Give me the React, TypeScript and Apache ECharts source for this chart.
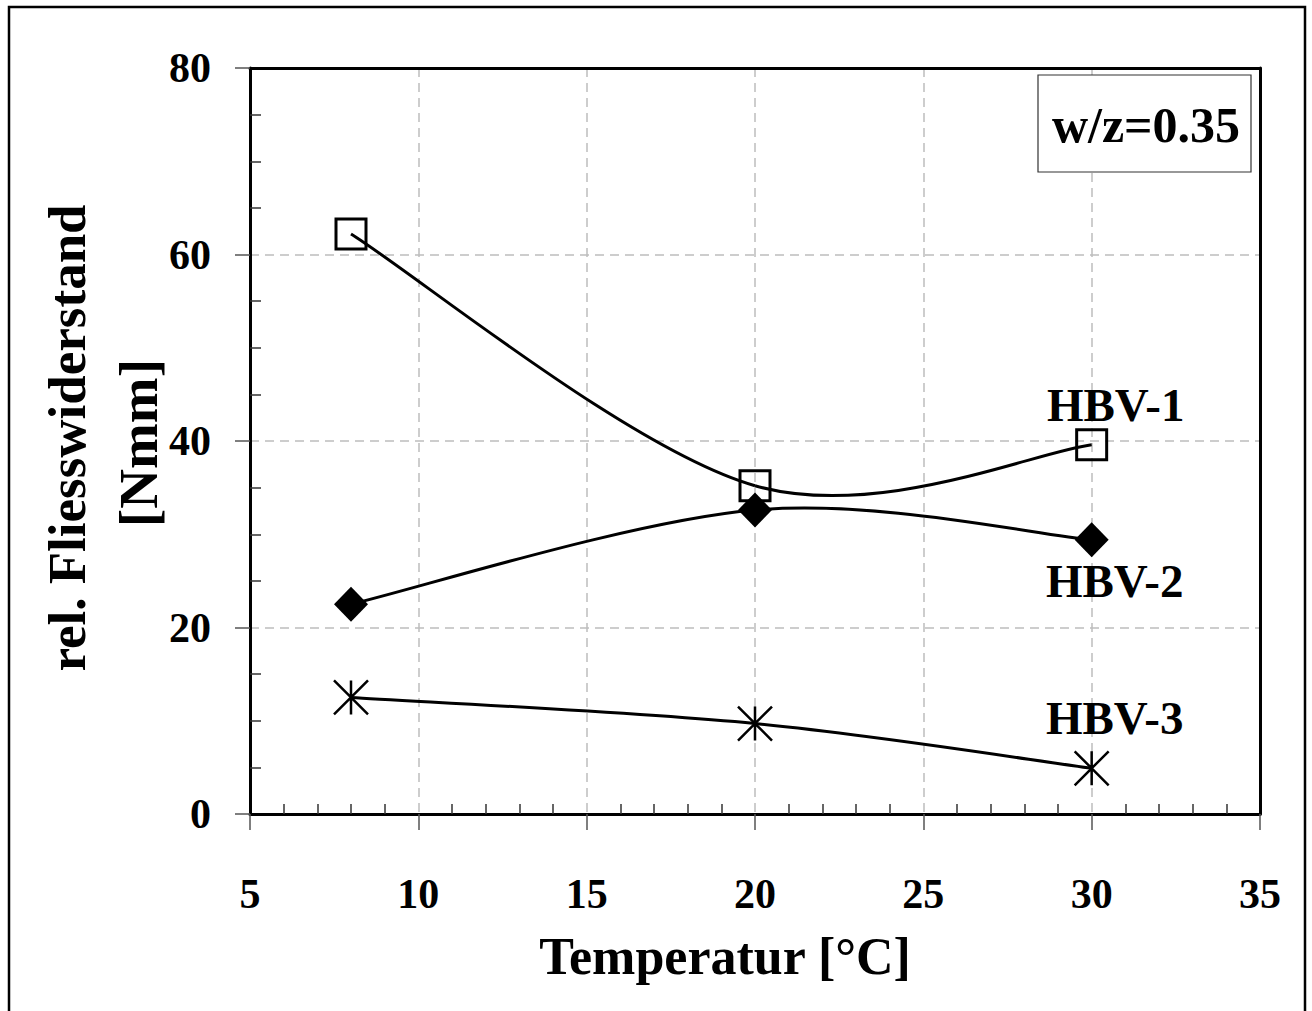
import React, { useEffect, useRef } from 'react';
import * as echarts from 'echarts';

// ---- data ----
const temperatures = [8, 20, 30];
const hbv1 = [62.2, 35.2, 39.6];
const hbv2 = [22.5, 32.6, 29.4];
const hbv3 = [12.5, 9.7, 4.9];
const seriesNames = ['HBV-1', 'HBV-2', 'HBV-3'];
const xRange = [5, 35];
const xStep = 5;
const yRange = [0, 80];
const yStep = 20;
const xTitle = 'Temperatur [°C]';
const yTitleLines = ['rel. Fliesswiderstand', '[Nmm]'];
const boxText = 'w/z=0.35';

const FONT = '"Liberation Serif", "Times New Roman", serif';

export default function App() {
  const ref = useRef<HTMLDivElement>(null);

  useEffect(() => {
    if (!ref.current) return;
    const chart = echarts.init(ref.current, undefined, { renderer: 'svg' });

    const labelStyle = (name: string, offset: number[]) => ({
      show: true,
      formatter: name,
      position: 'inside',
      offset,
      fontFamily: FONT,
      fontWeight: 'bold',
      fontSize: 47,
      color: '#000',
    });

    const mkData = (vals: number[], name: string, offset: number[]) =>
      vals.map((v, i) =>
        i === vals.length - 1
          ? { value: [temperatures[i], v], label: labelStyle(name, offset) }
          : { value: [temperatures[i], v] }
      );

    // Smooth (Excel-like, Catmull-Rom) curve drawn through the data points via the axes' scales
    const curveSeries = (vals: number[], name: string) => ({
      name: name + ' curve',
      type: 'custom',
      coordinateSystem: 'cartesian2d',
      data: temperatures.map((t, i) => [t, vals[i]]),
      encode: { x: 0, y: 1 },
      silent: true,
      z: 2,
      renderItem: (params: any, api: any) => {
        const i = params.dataIndexInside;
        const n = params.dataInsideLength ?? temperatures.length;
        if (i >= n - 1) return null;
        const pt = (j: number) => {
          const k = Math.max(0, Math.min(n - 1, j));
          return api.coord([api.value(0, k), api.value(1, k)]);
        };
        const p0 = pt(i - 1);
        const p1 = pt(i);
        const p2 = pt(i + 1);
        const p3 = pt(i + 2);
        const t = 1 / 6;
        return {
          type: 'bezierCurve',
          shape: {
            x1: p1[0],
            y1: p1[1],
            x2: p2[0],
            y2: p2[1],
            cpx1: p1[0] + (p2[0] - p0[0]) * t,
            cpy1: p1[1] + (p2[1] - p0[1]) * t,
            cpx2: p2[0] - (p3[0] - p1[0]) * t,
            cpy2: p2[1] - (p3[1] - p1[1]) * t,
          },
          style: { stroke: '#000', lineWidth: 3, fill: 'none' },
        };
      },
    });

    const gridLine = { show: true, showMinLine: false, showMaxLine: false, lineStyle: { color: '#bdbdbd', width: 1.5, type: [9, 6] } };

    const option: any = {
      animation: false,
      backgroundColor: '#fff',
      grid: {
        left: 250,
        right: 52,
        top: 68,
        bottom: 197,
        show: false,
        containLabel: false,
        outerBoundsMode: 'none',
      },
      xAxis: [
        {
          type: 'value',
          position: 'bottom',
          min: xRange[0],
          max: xRange[1],
          interval: xStep,
          axisLine: { show: true, onZero: false, lineStyle: { color: '#000', width: 3 } },
          axisTick: { show: true, inside: false, length: 16, lineStyle: { color: '#555', width: 1.5 } },
          axisLabel: {
            margin: 59,
            fontFamily: FONT,
            fontWeight: 'bold',
            fontSize: 42,
            color: '#000',
          },
          splitLine: gridLine,
        },
        {
          type: 'value',
          position: 'bottom',
          min: xRange[0],
          max: xRange[1],
          interval: xStep,
          axisLine: { show: false },
          axisTick: { show: false, inside: true },
          minorTick: { show: true, splitNumber: 5, length: 10, lineStyle: { color: '#333', width: 1.5 } },
          axisLabel: { show: false },
          splitLine: { show: false },
        },
        {
          type: 'value',
          position: 'top',
          min: xRange[0],
          max: xRange[1],
          interval: xStep,
          axisLine: { show: true, onZero: false, lineStyle: { color: '#000', width: 3 } },
          axisTick: { show: false },
          axisLabel: { show: false },
          splitLine: { show: false },
        },
      ],
      yAxis: [
        {
          type: 'value',
          position: 'left',
          min: yRange[0],
          max: yRange[1],
          interval: yStep,
          axisLine: { show: true, onZero: false, lineStyle: { color: '#000', width: 3 } },
          axisTick: { show: true, inside: false, length: 15, lineStyle: { color: '#555', width: 1.5 } },
          axisLabel: {
            margin: 39,
            fontFamily: FONT,
            fontWeight: 'bold',
            fontSize: 42,
            color: '#000',
          },
          splitLine: gridLine,
        },
        {
          type: 'value',
          position: 'left',
          min: yRange[0],
          max: yRange[1],
          interval: yStep,
          axisLine: { show: false },
          axisTick: { show: false, inside: true },
          minorTick: { show: true, splitNumber: 4, length: 11, lineStyle: { color: '#333', width: 1.5 } },
          axisLabel: { show: false },
          splitLine: { show: false },
        },
        {
          type: 'value',
          position: 'right',
          min: yRange[0],
          max: yRange[1],
          interval: yStep,
          axisLine: { show: true, onZero: false, lineStyle: { color: '#000', width: 3 } },
          axisTick: { show: false },
          axisLabel: { show: false },
          splitLine: { show: false },
        },
      ],
      series: [
        curveSeries(hbv1, seriesNames[0]),
        curveSeries(hbv2, seriesNames[1]),
        curveSeries(hbv3, seriesNames[2]),
        {
          name: seriesNames[0],
          type: 'scatter',
          data: mkData(hbv1, seriesNames[0], [24, -40]),
          symbol: 'rect',
          symbolSize: 30,
          itemStyle: { color: 'transparent', borderColor: '#000', borderWidth: 3, opacity: 1 },
          z: 3,
        },
        {
          name: seriesNames[1],
          type: 'scatter',
          data: mkData(hbv2, seriesNames[1], [23, 41]),
          symbol: 'diamond',
          symbolSize: [34, 35],
          itemStyle: { color: '#000', borderWidth: 0, opacity: 1 },
          z: 4,
        },
        {
          name: seriesNames[2],
          type: 'scatter',
          data: mkData(hbv3, seriesNames[2], [23, -50]),
          symbol: 'path://M0 0L10 10M10 0L0 10M5 0L5 10',
          symbolSize: 34,
          itemStyle: { color: 'transparent', borderColor: '#000', borderWidth: 2.5, opacity: 1 },
          z: 3,
        },
      ],
      graphic: [
        {
          type: 'rect',
          shape: { x: 9, y: 7, width: 1296, height: 1060 },
          style: { fill: 'none', stroke: '#000', lineWidth: 2.5 },
          silent: true,
          z: 100,
        },
        {
          type: 'rect',
          shape: { x: 1038, y: 75, width: 213, height: 97 },
          style: { fill: '#fff', stroke: '#333', lineWidth: 1.2 },
          z: 50,
        },
        {
          type: 'text',
          x: 1146,
          y: 125,
          style: {
            text: boxText,
            fontFamily: FONT,
            fontWeight: 'bold',
            fontSize: 50,
            fill: '#000',
            textAlign: 'center',
            textVerticalAlign: 'middle',
          },
          z: 51,
        },
        {
          type: 'text',
          x: 725,
          y: 956,
          style: {
            text: xTitle,
            fontFamily: FONT,
            fontWeight: 'bold',
            fontSize: 52,
            fill: '#000',
            textAlign: 'center',
            textVerticalAlign: 'middle',
          },
        },
        {
          type: 'text',
          x: 67,
          y: 438,
          rotation: Math.PI / 2,
          style: {
            text: yTitleLines[0],
            fontFamily: FONT,
            fontWeight: 'bold',
            fontSize: 53,
            fill: '#000',
            textAlign: 'center',
            textVerticalAlign: 'middle',
          },
        },
        {
          type: 'text',
          x: 138,
          y: 443,
          rotation: Math.PI / 2,
          style: {
            text: yTitleLines[1],
            fontFamily: FONT,
            fontWeight: 'bold',
            fontSize: 55,
            fill: '#000',
            textAlign: 'center',
            textVerticalAlign: 'middle',
          },
        },
      ],
    };

    chart.setOption(option);
    return () => chart.dispose();
  }, []);

  return (
    <div
      ref={ref}
      style={{ position: 'fixed', left: 0, top: 0, width: 1312, height: 1011 }}
    />
  );
}
